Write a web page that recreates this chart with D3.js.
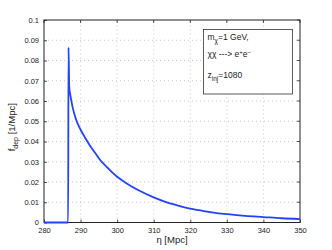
<!DOCTYPE html>
<html>
<head>
<meta charset="utf-8">
<script src="https://cdn.jsdelivr.net/npm/d3@7"></script>
<style>
  body { margin: 0; background: #fff; }
  svg { display: block; font-family: "Liberation Sans", Arial, sans-serif; }
</style>
</head>
<body>
<div id="chart"></div>
<script>
// eta [Mpc] and deposition fraction f_dep [1/Mpc]
const etaValues = [280, 286.6, 286.7, 286.9, 287.2, 287.5, 288, 288.7, 290, 291.2, 292.5, 294, 295.3, 297,
  298.5, 300, 301.2, 303.5, 306, 310, 313.2, 316, 320, 325, 330, 335, 340, 345, 350];
const fdepValues = [0, 0, 0.0865, 0.067, 0.063, 0.0598, 0.0556, 0.0512, 0.0458, 0.042, 0.0382, 0.0343, 0.031, 0.0277,
  0.025, 0.0226, 0.021, 0.0183, 0.0158, 0.0124, 0.0102, 0.0087, 0.0068, 0.0053, 0.0041, 0.0033, 0.0027, 0.0021, 0.0017];
const xTicks = [280, 290, 300, 310, 320, 330, 340, 350];
const yTicks = [0, 0.01, 0.02, 0.03, 0.04, 0.05, 0.06, 0.07, 0.08, 0.09, 0.1];

const W = 332, H = 250;
const m = { left: 44, right: 32, top: 20, bottom: 27.5 };

const svg = d3.select('#chart').append('svg')
  .attr('width', W)
  .attr('height', H);

const x = d3.scaleLinear().domain([280, 350]).range([m.left, W - m.right]);
const y = d3.scaleLinear().domain([0, 0.1]).range([H - m.bottom, m.top]);

// dotted grid
svg.append('g')
  .selectAll('line.vg')
  .data(xTicks.slice(1, -1))
  .join('line')
  .attr('x1', d => x(d)).attr('x2', d => x(d))
  .attr('y1', y(0)).attr('y2', y(0.1))
  .attr('stroke', '#bbb').attr('stroke-width', 0.8)
  .attr('stroke-dasharray', '1,3');
svg.append('g')
  .selectAll('line.hg')
  .data(yTicks.slice(1, -1))
  .join('line')
  .attr('x1', x(280)).attr('x2', x(350))
  .attr('y1', d => y(d)).attr('y2', d => y(d))
  .attr('stroke', '#bbb').attr('stroke-width', 0.8)
  .attr('stroke-dasharray', '1,3');

// axes, ticks pointing inward like matlab
const xAxis = svg.append('g')
  .attr('transform', `translate(0,${y(0)})`)
  .call(d3.axisBottom(x).tickValues(xTicks).tickSize(-3).tickPadding(5).tickFormat(d3.format('d')));
const yAxis = svg.append('g')
  .attr('transform', `translate(${x(280)},0)`)
  .call(d3.axisLeft(y).tickValues(yTicks).tickSize(-3).tickPadding(5).tickFormat(d => d === 0 ? '0' : d3.format('.2~f')(d)));

[xAxis, yAxis].forEach(g => {
  g.select('.domain').remove();
  g.selectAll('line').attr('stroke', '#222').attr('stroke-width', 0.8);
  g.selectAll('text').attr('font-size', 7.5).attr('fill', '#222').attr('font-family', '"Liberation Sans", Arial, sans-serif');
});

// box around the plot area
svg.append('rect')
  .attr('x', x(280)).attr('y', y(0.1))
  .attr('width', x(350) - x(280)).attr('height', y(0) - y(0.1))
  .attr('fill', 'none').attr('stroke', '#222').attr('stroke-width', 1);

// top/right ticks
svg.append('g').selectAll('line')
  .data(xTicks)
  .join('line')
  .attr('x1', d => x(d)).attr('x2', d => x(d))
  .attr('y1', y(0.1)).attr('y2', y(0.1) + 3)
  .attr('stroke', '#222').attr('stroke-width', 0.8);
svg.append('g').selectAll('line')
  .data(yTicks)
  .join('line')
  .attr('x1', x(350)).attr('x2', x(350) - 3)
  .attr('y1', d => y(d)).attr('y2', d => y(d))
  .attr('stroke', '#222').attr('stroke-width', 0.8);

const line = d3.line()
  .x((d, i) => x(etaValues[i]))
  .y(d => y(d))
  .curve(d3.curveMonotoneX);

svg.append('path')
  .datum(fdepValues)
  .attr('d', line)
  .attr('fill', 'none')
  .attr('stroke', '#2341ff')
  .attr('stroke-width', 1.8)
  .attr('stroke-linejoin', 'round');

// axis labels
svg.append('text')
  .attr('x', (x(280) + x(350)) / 2)
  .attr('y', 243)
  .attr('text-anchor', 'middle')
  .attr('font-size', 9.5)
  .attr('fill', '#222')
  .text('η [Mpc]');

const yl = svg.append('text')
  .attr('transform', `translate(15,${(y(0) + y(0.1)) / 2 + 6}) rotate(-90)`)
  .attr('text-anchor', 'middle')
  .attr('font-size', 9.5)
  .attr('fill', '#222');
yl.append('tspan').text('f');
yl.append('tspan').attr('font-size', 7).attr('dy', 3).text('dep');
yl.append('tspan').attr('dy', -3).text(' [1/Mpc]');

// legend box
const lg = svg.append('g');
lg.append('rect')
  .attr('x', 203.5).attr('y', 29.5)
  .attr('width', 89).attr('height', 64.5)
  .attr('fill', '#fff').attr('stroke', '#333').attr('stroke-width', 0.8);

const t1 = lg.append('text').attr('x', 207.5).attr('y', 40).attr('font-size', 8.5).attr('fill', '#222');
t1.append('tspan').text('m');
t1.append('tspan').attr('font-size', 6.5).attr('dy', 3).text('χ');
t1.append('tspan').attr('dy', -3).text('=1 GeV,');

const t2 = lg.append('text').attr('x', 207.5).attr('y', 57).attr('font-size', 8.5).attr('fill', '#222');
t2.append('tspan').text('χχ ---> e');
t2.append('tspan').attr('font-size', 6).attr('dy', -3.5).text('+');
t2.append('tspan').attr('dy', 3.5).text('e');
t2.append('tspan').attr('font-size', 6).attr('dy', -3.5).text('−');

const t3 = lg.append('text').attr('x', 207.5).attr('y', 78).attr('font-size', 8.5).attr('fill', '#222');
t3.append('tspan').text('z');
t3.append('tspan').attr('font-size', 6.5).attr('dy', 3).text('inj');
t3.append('tspan').attr('dy', -3).text('=1080');
</script>
</body>
</html>
